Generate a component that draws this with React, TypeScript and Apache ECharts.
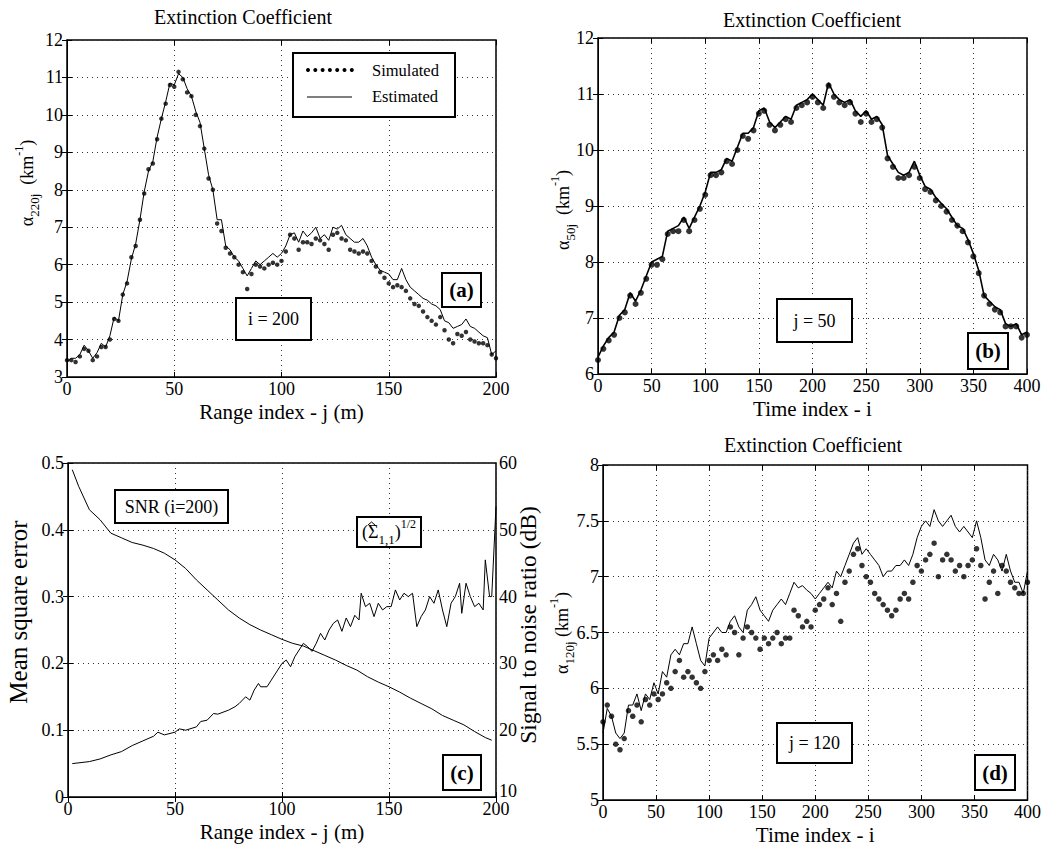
import React, { useEffect, useRef } from "react";
import * as echarts from "echarts";

const F = "'Liberation Serif','Times New Roman',Times,serif";
const TITLE = "Extinction Coefficient";

// ---------- Panel (a): i = 200, range index j = 0..200 (step 2) ----------
const aStep = 2;
const aEstimated = [
  3.4, 3.5, 3.5, 3.6, 3.85, 3.7, 3.5, 3.65, 3.9, 3.8,
  4.1, 4.6, 4.5, 5.2, 5.55, 6.15, 6.55, 7.2, 7.95, 8.5,
  8.75, 9.4, 9.9, 10.35, 10.85, 10.8, 11.1, 11.0, 10.7, 10.5,
  10.1, 9.8, 9.1, 8.4, 8.0, 7.2, 7.2, 6.5, 6.4, 6.2,
  6.1, 5.9, 5.7, 5.9, 6.1, 6.0, 6.1, 6.2, 6.3, 6.2,
  6.3, 6.5, 6.8, 6.85, 6.6, 6.9, 6.75, 6.85, 7.0, 6.7,
  6.8, 6.65, 7.0, 6.95, 7.05, 6.8, 6.7, 6.6, 6.6, 6.7,
  6.5, 6.2, 6.0, 5.85, 5.8, 5.75, 5.6, 5.6, 5.9, 5.6,
  5.4, 5.3, 5.2, 5.1, 5.05, 4.95, 4.9, 4.8, 4.5, 4.45,
  4.3, 4.35, 4.4, 4.55, 4.35, 4.3, 4.2, 4.1, 4.05, 3.6,
  3.7,
];
const aSimulated = [
  3.45, 3.45, 3.4, 3.55, 3.75, 3.7, 3.45, 3.55, 3.8, 3.8,
  4.0, 4.55, 4.5, 5.2, 5.5, 6.2, 6.5, 7.2, 7.9, 8.55,
  8.7, 9.35, 9.9, 10.3, 10.8, 10.75, 11.15, 10.95, 10.6, 10.5,
  10.0, 9.7, 9.1, 8.3, 8.0, 7.1, 6.9, 6.45, 6.3, 6.2,
  6.0, 5.8, 5.35, 5.75, 6.0, 5.95, 5.9, 6.0, 6.05, 6.0,
  6.1, 6.35, 6.8, 6.7, 6.4, 6.6, 6.6, 6.55, 6.7, 6.65,
  6.55, 6.4, 6.8, 6.85, 6.7, 6.65, 6.4, 6.35, 6.3, 6.35,
  6.3, 6.1, 5.95, 5.8, 5.65, 5.5, 5.4, 5.45, 5.4, 5.3,
  5.1, 4.95, 4.9, 4.75, 4.6, 4.5, 4.4, 4.6, 4.25, 4.0,
  3.9, 4.15, 4.1, 4.2, 4.0, 3.95, 3.9, 3.9, 3.85, 3.6,
  3.5,
];

// ---------- Panel (b): j = 50, time index i = 0..400 (step 5) ----------
const bStep = 5;
const bEstimated = [
  6.3, 6.5, 6.65, 6.75, 7.05, 7.15, 7.45, 7.3, 7.5, 7.75,
  8.0, 8.05, 8.1, 8.55, 8.6, 8.65, 8.8, 8.6, 8.8, 9.0,
  9.25, 9.6, 9.6, 9.65, 9.85, 9.8, 10.05, 10.3, 10.3, 10.4,
  10.7, 10.75, 10.5, 10.4, 10.5, 10.6, 10.55, 10.8, 10.85, 10.9,
  11.0, 10.9, 10.8, 11.2, 11.0, 10.9, 10.85, 10.9, 10.7, 10.6,
  10.7, 10.55, 10.6, 10.45, 9.9, 9.75, 9.6, 9.55, 9.6, 9.8,
  9.55, 9.35, 9.3, 9.15, 9.05, 8.95, 8.8, 8.65, 8.6, 8.4,
  8.15, 7.85, 7.4, 7.3, 7.2, 7.15, 6.9, 6.85, 6.9, 6.7,
  6.75,
];
const bSimulated = [
  6.25, 6.45, 6.6, 6.7, 7.0, 7.1, 7.4, 7.25, 7.45, 7.7,
  7.95, 7.95, 8.05, 8.5, 8.55, 8.55, 8.75, 8.55, 8.75, 8.95,
  9.2, 9.55, 9.55, 9.6, 9.8, 9.75, 10.0, 10.25, 10.2, 10.35,
  10.65, 10.7, 10.45, 10.35, 10.45, 10.55, 10.5, 10.75, 10.8, 10.85,
  10.95, 10.85, 10.75, 11.15, 10.95, 10.85, 10.8, 10.85, 10.65, 10.5,
  10.65, 10.5, 10.55, 10.4, 9.85, 9.7, 9.5, 9.5, 9.55, 9.7,
  9.5, 9.3, 9.25, 9.1, 9.0, 8.9, 8.75, 8.65, 8.55, 8.35,
  8.1, 7.8, 7.4, 7.25, 7.15, 7.1, 6.85, 6.85, 6.85, 6.65,
  6.7,
];

// ---------- Panel (c): SNR (dB, right axis) and (Sigma_1,1)^1/2 (left axis) ----------
const snrJ = [2, 5, 10, 15, 20, 25, 30, 35, 40, 45, 50, 55, 60, 65, 70, 75, 80, 85, 90, 95, 100,
  105, 110, 115, 120, 125, 130, 135, 140, 145, 150, 155, 160, 165, 170, 175, 180, 185, 190, 195, 198];
const snrDb = [59, 56.5, 53, 51.5, 49.5, 48.8, 48.1, 47.7, 47.2, 46.5, 45.5, 44.2, 42.5, 41, 39.5,
  38, 36.8, 35.8, 35, 34.3, 33.6, 33, 32.6, 31.9, 31.2, 30.5, 29.7, 29, 28, 27.2, 26.5, 25.7,
  24.8, 24, 23.2, 22.2, 21.5, 20.8, 19.8, 18.9, 18.5];
const sigmaJ = [2, 10, 15, 20, 25, 30, 35, 40, 42, 45, 50, 52, 55, 60, 62, 65, 68, 70, 75, 78,
  80, 83, 85, 87, 89, 90, 93, 95, 98, 100, 102, 104, 106, 108, 110, 112, 114, 116, 118, 120,
  122, 124, 126, 128, 130, 132, 134, 136, 137, 139, 141, 143, 145, 147, 149, 151, 153, 155, 157, 159,
  161, 163, 165, 167, 169, 171, 173, 175, 177, 179, 181, 183, 184, 186, 188, 190, 192, 194, 195, 197,
  198, 200];
const sigmaVal = [0.05, 0.053, 0.057, 0.063, 0.068, 0.077, 0.084, 0.091, 0.097, 0.093,
  0.097, 0.102, 0.1, 0.105, 0.113, 0.115, 0.125, 0.124, 0.13, 0.135,
  0.14, 0.15, 0.145, 0.16, 0.17, 0.165, 0.165, 0.175, 0.19, 0.2,
  0.205, 0.195, 0.21, 0.22, 0.23, 0.225, 0.218, 0.23, 0.245, 0.235,
  0.25, 0.26, 0.265, 0.248, 0.268, 0.255, 0.272, 0.265, 0.305, 0.285,
  0.29, 0.27, 0.29, 0.28, 0.285, 0.285, 0.31, 0.295, 0.305, 0.3,
  0.305, 0.255, 0.27, 0.28, 0.3, 0.29, 0.31, 0.28, 0.255, 0.29,
  0.3, 0.32, 0.275, 0.32, 0.3, 0.285, 0.29, 0.28, 0.355, 0.3,
  0.3, 0.435];

// ---------- Panel (d): j = 120, time index i = 0..400 (step 4) ----------
const dStep = 4;
const dEstimated = [
  5.6, 5.82, 5.75, 5.6, 5.55, 5.6, 5.85, 5.85, 5.95, 5.8,
  5.95, 5.9, 6.05, 5.95, 6.15, 6.1, 6.3, 6.35, 6.3, 6.4,
  6.4, 6.55, 6.4, 6.25, 6.2, 6.45, 6.5, 6.55, 6.5, 6.5,
  6.6, 6.65, 6.55, 6.5, 6.7, 6.75, 6.82, 6.7, 6.65, 6.6,
  6.7, 6.75, 6.8, 6.75, 6.85, 6.95, 6.9, 6.92, 6.88, 6.85,
  6.8, 6.85, 6.9, 6.95, 6.9, 7.05, 7.0, 7.1, 7.2, 7.3,
  7.35, 7.2, 7.25, 7.2, 7.15, 7.1, 7.0, 7.05, 7.05, 7.1,
  7.1, 7.15, 7.1, 7.2, 7.35, 7.45, 7.5, 7.45, 7.6, 7.5,
  7.45, 7.5, 7.55, 7.45, 7.4, 7.45, 7.4, 7.35, 7.5, 7.35,
  7.15, 7.1, 7.2, 7.15, 7.05, 7.2, 7.05, 6.95, 6.95, 6.85,
  7.05,
];
const dSimulated = [
  5.7, 5.85, 5.75, 5.5, 5.45, 5.55, 5.8, 5.75, 5.85, 5.7,
  5.9, 5.85, 5.95, 5.9, 5.95, 6.05, 6.0, 6.15, 6.25, 6.1,
  6.15, 6.1, 6.05, 6.0, 6.15, 6.25, 6.3, 6.25, 6.35, 6.3,
  6.55, 6.5, 6.3, 6.45, 6.55, 6.5, 6.45, 6.35, 6.45, 6.4,
  6.45, 6.5, 6.4, 6.45, 6.45, 6.7, 6.65, 6.55, 6.6, 6.55,
  6.7, 6.75, 6.8, 6.9, 6.75, 6.85, 6.6, 6.95, 7.05, 7.2,
  7.25, 7.1, 7.0, 6.95, 6.85, 6.8, 6.75, 6.7, 6.65, 6.7,
  6.8, 6.85, 6.8, 6.95, 7.1, 7.05, 7.15, 7.2, 7.3, 7.0,
  7.15, 7.2, 7.15, 7.05, 7.1, 7.0, 7.1, 7.15, 7.25, 7.1,
  6.8, 6.95, 7.05, 6.85, 7.1, 7.05, 6.95, 6.9, 6.85, 6.85,
  6.95,
];

// ---------- helpers ----------
const pairs = (vals: number[], step: number) => vals.map((v, k) => [k * step, v]);
const zip = (xs: number[], ys: number[]) => xs.map((x, k) => [x, ys[k]]);

const tick = { show: true, inside: true, length: 5, lineStyle: { color: "#000", width: 1 } };
const axLine = { show: true, onZero: false, lineStyle: { color: "#000", width: 1 } };
const gridLines = { show: true, lineStyle: { color: "#333", type: [1, 4], width: 1 } };
const lab = (margin: number) => ({ color: "#000", fontFamily: F, fontSize: 18, margin });
const nameStyle = { color: "#000", fontFamily: F, fontSize: 21 };

function xMain(gridIndex: number, max: number, name: string) {
  return {
    type: "value", gridIndex, min: 0, max, interval: 50, position: "bottom",
    axisLine: axLine, axisTick: tick, axisLabel: lab(3), splitLine: gridLines,
    name, nameLocation: "middle", nameGap: 24, nameTextStyle: nameStyle,
  };
}
function xTop(gridIndex: number, max: number) {
  return {
    type: "value", gridIndex, min: 0, max, interval: 50, position: "top",
    axisLine: { show: false }, axisTick: tick, axisLabel: { show: false }, splitLine: { show: false },
  };
}
function yLeft(gridIndex: number, min: number, max: number, interval: number) {
  return {
    type: "value", gridIndex, min, max, interval, position: "left",
    axisLine: axLine, axisTick: tick, axisLabel: lab(4), splitLine: gridLines,
  };
}
function yRight(gridIndex: number, min: number, max: number, interval: number, labels: boolean) {
  return {
    type: "value", gridIndex, min, max, interval, position: "right",
    axisLine: { show: false }, axisTick: tick,
    axisLabel: labels
      ? {
          ...lab(3), align: "left",
          formatter: (v: number) => (v === min ? "{lo|" + v + "}" : String(v)),
          rich: { lo: { fontFamily: F, fontSize: 18, color: "#000", padding: [0, 0, 12, 0] } },
        }
      : { show: false },
    splitLine: { show: false },
  };
}

const rich = {
  n: { fontFamily: F, fontSize: 18, lineHeight: 28, verticalAlign: "middle", fill: "#000", color: "#000" },
  sub: { fontFamily: F, fontSize: 13, lineHeight: 28, verticalAlign: "bottom", color: "#000" },
  sup: { fontFamily: F, fontSize: 12, lineHeight: 28, verticalAlign: "top", color: "#000" },
};

function txt(x: number, y: number, text: string, size = 18, extra: any = {}) {
  return {
    type: "text", x, y, z: 100,
    style: { text, fill: "#000", fontFamily: F, fontSize: size, align: "center", verticalAlign: "middle", ...extra },
  };
}
function vtxt(x: number, y: number, text: string, size = 18, withRich = false) {
  return {
    type: "text", x, y, z: 100, rotation: Math.PI / 2,
    style: {
      text, fill: "#000", fontFamily: F, fontSize: size, align: "center", verticalAlign: "middle",
      ...(withRich ? { rich } : {}),
    },
  };
}
function box(x: number, y: number, w: number, h: number, text: string, bold = false, size = 18, withRich = false) {
  return {
    type: "group", z: 100,
    children: [
      { type: "rect", z: 100, shape: { x, y, width: w, height: h }, style: { fill: "#fff", stroke: "#000", lineWidth: 2 } },
      {
        type: "text", z: 101, x: x + w / 2, y: y + h / 2,
        style: {
          text, fill: "#000", fontFamily: F, fontSize: size, fontWeight: bold ? "bold" : "normal",
          align: "center", verticalAlign: "middle", ...(withRich ? { rich } : {}),
        },
      },
    ],
  };
}

const legendDots = [0, 1, 2, 3, 4, 5, 6].map((k) => ({
  type: "circle", z: 101, shape: { cx: 308 + k * 7.3, cy: 70, r: 2 }, style: { fill: "#000" },
}));

export default function App() {
  const ref = useRef<HTMLDivElement>(null);
  useEffect(() => {
    const chart = echarts.init(ref.current!, null, { renderer: "svg" });
    const lineS = (xi: number, yi: number, data: any[], w = 1) => ({
      type: "line", xAxisIndex: xi, yAxisIndex: yi, data, showSymbol: false, symbol: "none",
      lineStyle: { color: "#000", width: w }, silent: true, z: 3,
    });
    const dotS = (xi: number, yi: number, data: any[], size: number) => ({
      type: "scatter", xAxisIndex: xi, yAxisIndex: yi, data, symbolSize: size,
      itemStyle: { color: "#000" }, silent: true, z: 2,
    });
    const gridBase = { show: true, borderColor: "#000", borderWidth: 1.5, backgroundColor: "#fff", containLabel: false };
    chart.setOption({
      animation: false,
      backgroundColor: "#fff",
      textStyle: { fontFamily: F },
      grid: [
        { ...gridBase, left: 67, top: 40, width: 429, height: 337 },
        { ...gridBase, left: 598, top: 38, width: 429, height: 336 },
        { ...gridBase, left: 68, top: 463, width: 428, height: 334 },
        { ...gridBase, left: 603, top: 465, width: 427, height: 335 },
      ],
      xAxis: [
        xMain(0, 200, "Range index - j (m)"),
        xMain(1, 400, "Time index - i"),
        xMain(2, 200, "Range index - j (m)"),
        xMain(3, 400, "Time index - i"),
        xTop(0, 200), xTop(1, 400), xTop(2, 200), xTop(3, 400),
      ],
      yAxis: [
        yLeft(0, 3, 12, 1),
        yLeft(1, 6, 12, 1),
        yLeft(2, 0, 0.5, 0.1),
        yRight(2, 10, 60, 10, true),
        yLeft(3, 5, 8, 0.5),
        yRight(0, 3, 12, 1, false),
        yRight(1, 6, 12, 1, false),
        yRight(3, 5, 8, 0.5, false),
      ],
      series: [
        dotS(0, 0, pairs(aSimulated, aStep), 4.5),
        lineS(0, 0, pairs(aEstimated, aStep)),
        dotS(1, 1, pairs(bSimulated, bStep), 6),
        lineS(1, 1, pairs(bEstimated, bStep), 1.6),
        lineS(2, 3, zip(snrJ, snrDb)),
        lineS(2, 2, zip(sigmaJ, sigmaVal)),
        dotS(3, 4, pairs(dSimulated, dStep), 5.5),
        lineS(3, 4, pairs(dEstimated, dStep)),
      ],
      graphic: [
        txt(243, 17, TITLE, 20),
        txt(812, 20, TITLE, 20),
        txt(813, 445, TITLE, 20),
        vtxt(27, 183, "{n|α}{sub|220j}{n|  (km}{sup|-1}{n|)}", 18, true),
        vtxt(563, 210, "{n|α}{sub|50j}{n|  (km}{sup|-1}{n|)}", 18, true),
        vtxt(562, 633, "{n|α}{sub|120j}{n| (km}{sup|-1}{n|)}", 18, true),
        vtxt(18, 612, "Mean square error", 25),
        vtxt(528, 625, "Signal to noise ratio (dB)", 23.5),
        // legend of (a)
        { type: "rect", z: 100, shape: { x: 293, y: 53, width: 162, height: 64 }, style: { fill: "#fff", stroke: "#000", lineWidth: 2 } },
        ...legendDots,
        { type: "line", z: 101, shape: { x1: 307, y1: 97, x2: 352, y2: 97 }, style: { stroke: "#000", lineWidth: 1 } },
        txt(372, 70, "Simulated", 16.5, { align: "left" }),
        txt(372, 96, "Estimated", 16.5, { align: "left" }),
        box(236, 298, 75, 42, "i = 200"),
        box(442, 273, 39, 34, "(a)", true, 21),
        box(777, 299, 75, 43, "j = 50"),
        box(968, 333, 40, 36, "(b)", true, 21),
        box(115, 490, 113, 33, "SNR (i=200)"),
        box(357, 517, 64, 30, "{n|(Σ}{sub|1,1}{n|)}{sup|1/2}", false, 18, true),
        {
          type: "polyline", z: 102,
          shape: { points: [[368, 525], [371.5, 522], [375, 525]] },
          style: { stroke: "#000", lineWidth: 1, fill: "none" },
        },
        box(443, 755, 38, 35, "(c)", true, 21),
        box(777, 723, 75, 40, "j = 120"),
        box(975, 755, 40, 35, "(d)", true, 21),
      ],
    });
    return () => chart.dispose();
  }, []);
  return (
    <div
      ref={ref}
      style={{ position: "absolute", left: 0, top: 0, width: 1044, height: 846, background: "#fff" }}
    />
  );
}
